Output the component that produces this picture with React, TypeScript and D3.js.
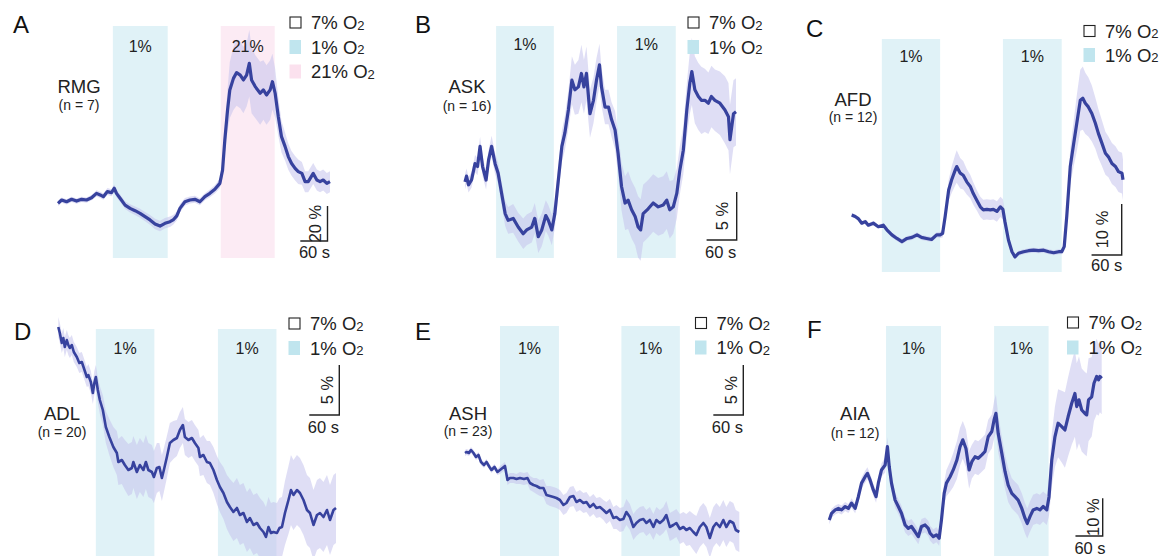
import React from "react";
import * as d3 from "d3";

type Pt = [number, number, number]; // [time s, mean %, sem %]

const FONT = "'Liberation Sans', Arial, Helvetica, sans-serif";
const LINE = "#37429e";
const BAND = "#c4c3ec";
const BLUE = "#e0f2f7";
const BLUE_SW = "#c0e5ee";
const PINK = "#fcebf4";
const PINK_SW = "#fbe1ee";
const TXT = "#222";

// ---------- data ----------
const rmgTrace: Pt[] = [[0,-1.9,1.5],[8,0,1.5],[19,-1,1.5],[30,0.4,1.5],[41,-0.6,1.5],[52,0.4,1.5],[63,0,1.5],[74,1.3,1.5],[85,3.8,1.8],[93,2.9,1.8],[100,1.9,1.8],[109,4.8,2],[118,4.2,2],[124,6.7,2.2],[129,3.8,2.2],[137,1,2.2],[148,-2.9,2.2],[159,-4.8,2.4],[170,-6.1,2.4],[181,-7.6,2.6],[192,-9.5,2.6],[203,-11.4,2.8],[214,-13.7,3],[225,-14.9,3],[236,-13.3,3],[247,-12.4,3],[254,-11.4,2.8],[262,-9.1,2.6],[269,-4.8,2.4],[280,-1,2.2],[291,0,2],[302,0.4,2],[313,-1,2],[324,1.9,2],[335,3.8,2.2],[346,6.1,2.4],[357,9.5,2.8],[363,17.1,4],[368,34.3,8],[374,51.4,12],[379,62.9,16],[387,69.5,18],[394,72.8,19],[402,71.4,19],[409,68.6,19],[416,71.4,18],[422,78.1,19],[427,68.6,19],[435,64.8,18],[446,61,18],[453,62.9,17],[460,60,17],[468,62.9,17],[473,67.6,16],[479,61,14],[486,47.6,11],[493,36.2,9],[501,30.5,8],[508,24.8,7.5],[515,21,7],[523,18.1,7],[530,16.2,7],[538,15.2,6.5],[545,10.5,6],[552,10.5,6],[563,15.2,6],[571,11.4,6],[578,10.5,6],[585,11.4,6],[593,9.5,6],[600,10.5,6]];
const askTrace: Pt[] = [[0,-0.2,0.8],[3,0.4,0.8],[7,-0.5,0.8],[13,0,0.8],[20,1.7,0.9],[25,1.4,0.9],[30,3.5,1],[35,1.4,1],[42,0,1],[47,2.1,1],[53,3.5,1.1],[60,1.7,1.1],[66,0.7,1.1],[73,-1.4,1.2],[80,-3.5,1.3],[86,-4.2,1.4],[96,-4,1.5],[106,-4.9,1.5],[116,-5.6,1.6],[123,-5.2,1.6],[133,-4.9,1.6],[139,-4,1.6],[146,-5.9,1.7],[153,-5.2,1.7],[161,-3.7,1.6],[166,-4.2,1.6],[173,-5.2,1.6],[179,-3.5,1.5],[186,0,1.5],[193,3.5,1.6],[199,4.9,1.8],[206,7.3,2],[213,10.4,2.5],[219,9.4,2.6],[226,9.7,2.8],[232,11.1,3],[237,9.7,2.8],[242,11.1,2.8],[249,6.9,2.5],[256,8.3,2.4],[262,10.4,2.3],[268,12,2.2],[272,9.7,2],[279,7.6,1.8],[286,7.6,1.8],[292,6.3,1.8],[299,5.2,2],[305,2.8,2.2],[312,-0.7,2.5],[319,-2.4,2.8],[325,-2.1,3],[332,-3.1,3],[339,-3.8,3],[345,-4.9,3.2],[350,-5.2,3.2],[355,-3.5,3],[365,-3,3],[375,-2.4,3],[385,-2.8,3],[395,-2.6,3],[402,-2.1,3],[408,-3.1,3],[415,-2.8,2.8],[422,-1.4,2.6],[428,1,2.5],[435,3.1,2.5],[442,7.3,2.8],[448,10.1,3.2],[452,11.3,3.5],[458,9.4,3.5],[465,8.7,3.5],[471,8.3,3.5],[478,8.3,3.3],[485,8,3.2],[491,8.7,3.2],[498,8.3,3.2],[508,8,3.3],[518,7.3,3.5],[525,6.6,3.5],[528,4.2,3.6],[535,6.9,3.5],[540,7.1,3.5]];
const afdTrace: Pt[] = [[0,0,0.4],[7,-0.3,0.4],[13,-0.7,0.4],[20,-1.6,0.4],[27,-1.3,0.4],[33,-2,0.4],[43,-1.6,0.4],[53,-2.3,0.4],[63,-2,0.4],[70,-2.9,0.5],[80,-3.9,0.5],[90,-4.6,0.5],[100,-5.2,0.5],[110,-4.6,0.5],[120,-4.4,0.5],[130,-3.9,0.5],[139,-4.4,0.5],[149,-4.6,0.5],[159,-4.8,0.5],[169,-3.9,0.5],[176,-3.9,0.6],[181,-3.6,0.8],[186,-0.3,1.2],[193,4.9,2],[199,6.9,2.6],[206,8.8,3],[209,9.5,3.2],[216,8.2,3],[222,7.8,2.8],[229,6.5,2.5],[236,5.6,2.3],[242,4.2,2.2],[249,2.9,2],[256,1.6,2],[262,1,2],[269,1.1,2],[276,1,2],[282,1.1,2],[289,0.7,2],[296,1.6,2],[301,1.1,2],[305,-1.3,1.5],[312,-4.9,1],[319,-7.2,0.6],[325,-8.2,0.5],[332,-7.5,0.5],[342,-7.2,0.5],[352,-7,0.5],[362,-6.9,0.5],[372,-7,0.5],[382,-6.9,0.5],[392,-7.2,0.5],[402,-7.4,0.5],[412,-7.2,0.5],[418,-7.2,0.5],[423,-6.2,0.8],[428,-0.3,2],[435,9.5,3.5],[442,14.1,4.5],[448,18,5.5],[455,22.5,6],[460,22.9,6.2],[465,21.9,6],[471,21.2,5.8],[478,19.9,5.5],[485,18,5],[491,16,4.8],[498,14.1,4.5],[505,12.1,4.2],[511,11.4,4],[518,10.1,4],[525,9.5,4],[531,8.5,4],[538,8.2,4],[540,6.9,4]];
const adlTrace: Pt[] = [[0,15.3,1],[3,14.7,1],[7,13.7,1],[10,14.2,1],[13,13.3,1],[17,14,1],[20,13.5,1],[23,13.2,1],[27,13.5,1],[31,12.8,1],[37,12.3,1],[42,11.7,1],[47,11.8,1],[51,11.2,1],[57,10.3,1],[60,10.5,1.1],[65,9.8,1.1],[69,8.7,1.1],[72,9.7,1.2],[75,10.3,1.2],[79,9,1.3],[83,8,1.4],[89,7,1.5],[95,5.3,1.6],[102,4.3,1.8],[110,3.3,2],[117,2.7,2.2],[120,1.8,2.3],[127,2,2.4],[133,1.5,2.5],[140,1,2.6],[147,1.2,2.6],[150,1.8,2.6],[157,0.8,2.7],[163,1.5,2.7],[170,1,2.7],[175,1.8,2.7],[180,1,2.7],[187,0.8,2.7],[191,0.3,2.6],[197,1.2,2.5],[202,1.3,2.4],[207,0.2,2.3],[211,1,2.2],[217,2.3,2.1],[223,3.7,2],[230,4,1.9],[237,4.2,1.8],[243,5,1.8],[249,5.5,1.8],[253,4.3,1.8],[260,4,1.8],[267,4.2,1.8],[273,3.7,1.8],[280,3.2,1.8],[283,2.3,1.9],[290,2.5,2],[297,1.8,2.1],[303,1.7,2.2],[310,1,2.3],[317,0,2.4],[323,-0.7,2.5],[330,-1.3,2.6],[337,-2.2,2.7],[343,-2.7,2.8],[350,-3.2,2.9],[357,-2.8,3],[363,-3.5,3],[370,-3.3,3],[377,-4.2,3],[383,-3.8,3],[390,-4.5,3],[397,-4.3,3],[403,-4.8,3],[410,-5.2,3],[415,-5.7,3],[420,-4.7,3],[425,-5.3,3],[430,-5.2,3],[437,-5.3,3],[442,-4.8,3],[447,-4.7,3],[453,-3.3,3.2],[460,-2,3.4],[465,-1,3.5],[470,-1.5,3.5],[477,-1,3.5],[483,-1.3,3.5],[490,-2,3.5],[497,-3,3.5],[503,-3.3,3.5],[510,-4.5,3.5],[517,-3.5,3.5],[523,-3.3,3.5],[530,-3.7,3.5],[537,-3,3.5],[543,-4,3.5],[550,-3,3.5],[555,-2.8,3.5]];
const ashTrace: Pt[] = [[0,2.7,0.3],[3,2.8,0.3],[8,2.7,0.3],[12,3,0.3],[17,2.7,0.3],[22,2.3,0.3],[27,2.5,0.3],[32,1.8,0.3],[38,1.5,0.3],[43,1.8,0.3],[49,1.3,0.3],[53,1,0.3],[59,1.3,0.3],[65,0.8,0.3],[70,1,0.4],[75,1.2,0.4],[80,1.4,0.4],[85,0,0.5],[90,0.2,0.5],[97,0.2,0.5],[103,0.1,0.5],[110,0.2,0.6],[118,0.1,0.6],[125,0.2,0.6],[130,-0.3,0.7],[137,-0.5,0.7],[143,-0.6,0.8],[150,-0.8,0.8],[157,-0.8,0.9],[163,-1.5,0.9],[170,-1.6,1],[177,-1.7,1],[183,-1.8,1],[190,-2,1],[197,-2.5,1],[203,-2.3,1],[210,-1.7,1],[217,-1.6,1],[223,-2.2,1],[230,-2,1],[237,-2.3,1],[243,-2.2,1],[250,-2.7,1],[257,-2.4,1],[263,-2.8,1],[270,-2.7,1],[277,-3,1],[283,-3.3,1.1],[290,-3,1.1],[297,-3.8,1.1],[303,-3.7,1.2],[310,-4,1.2],[317,-3.9,1.2],[323,-3.2,1.3],[330,-3.7,1.3],[337,-4.7,1.3],[343,-4.3,1.3],[350,-4,1.3],[357,-3.9,1.3],[363,-4.3,1.3],[370,-4,1.3],[377,-4.7,1.3],[383,-4,1.3],[390,-4.3,1.3],[397,-4,1.3],[403,-3.5,1.4],[410,-4.7,1.4],[417,-4.5,1.4],[423,-4.3,1.4],[430,-4.9,1.5],[437,-4.7,1.5],[443,-5,1.6],[450,-4.8,1.7],[457,-5.2,1.8],[463,-5.5,1.9],[470,-4.7,2],[477,-4.3,2],[483,-4.7,2],[490,-5.8,2],[497,-4.7,2],[503,-4.3,2],[510,-4.7,2],[517,-4,2],[523,-4.7,2],[530,-4.1,2],[537,-4.3,2],[542,-5,2],[549,-5.2,2]];
const aiaTrace: Pt[] = [[0,-1.8,1.2],[5,0,1.2],[13,0.9,1.2],[20,1.3,1.2],[27,0.9,1.2],[35,1.8,1.2],[42,1.3,1.2],[49,2.7,1.3],[57,1.3,1.3],[64,4.4,1.4],[71,8,1.5],[79,9.7,1.6],[84,10.6,1.6],[90,8.8,1.6],[97,6.2,1.6],[103,4.4,1.6],[108,8,1.7],[115,11.5,1.8],[123,12.8,2],[128,17.7,2.5],[132,12.4,2.5],[137,8,2.2],[145,3.5,2],[152,1.8,2],[159,0,2],[167,-3.1,2],[174,-4,2],[181,-3.5,2],[189,-4.9,2],[196,-6.2,2],[203,-3.5,2],[211,-3.1,2],[218,-4,2],[222,-5.3,2],[229,-6.2,2],[236,-5.7,2],[242,-6.6,2],[247,-1.8,2.5],[253,5.3,3],[258,8,3.5],[266,9.7,4],[273,11.5,4.5],[281,14.1,5],[288,17.7,5],[294,19.5,5],[301,17.2,5],[308,11.5,5],[314,13.7,4.5],[321,15,4.5],[328,14.6,4.5],[336,15.5,4.5],[343,16.4,4.5],[350,20.3,4.5],[358,21.7,4.5],[363,24.8,5],[367,26.5,5],[372,21.2,5],[380,15.9,4.5],[387,11.1,4.5],[394,7.5,4.5],[402,5.3,4],[409,4.4,4],[416,3.5,4],[424,1.3,4],[431,-1.3,4],[436,-2.7,4],[442,-0.9,4],[449,0.9,4],[457,1.3,4],[464,0.9,4],[471,1.8,4],[479,0.9,4],[484,4.4,5],[490,14.1,7],[497,20.3,8],[504,23.9,9],[512,23,9.5],[519,22.1,10],[526,25.6,10.5],[534,29.2,11],[541,31.8,11.5],[545,28.3,11.5],[550,30.1,11.5],[556,27.4,11],[563,26.5,11],[567,26.1,11],[571,30.1,11],[578,30.9,10.5],[583,34.5,10],[589,36.3,10],[593,35.4,9.5],[596,36.3,9.5],[600,35.8,9.5]];

// stimulus periods [start s, end s, O2 level]
const rmgStimuli: [number, number, string][] = [[121, 242, "1%"], [359, 478, "21%"]];
const askStimuli: [number, number, string][] = [[62, 177, "1%"], [303, 420, "1%"]];
const afdStimuli: [number, number, string][] = [[60, 176, "1%"], [301, 418, "1%"]];
const adlStimuli: [number, number, string][] = [[75, 192, "1%"], [319, 436, "1%"]];
const ashStimuli: [number, number, string][] = [[70, 188, "1%"], [313, 430, "1%"]];
const aiaStimuli: [number, number, string][] = [[125, 246, "1%"], [363, 483, "1%"]];

const legendFull = ["7%", "1%", "21%"];
const legendShort = ["7%", "1%"];

type Cfg = {
  letter: string; letterX: number; letterY: number;
  trace: Pt[]; stim: [number, number, string][]; tMax: number; xRange: [number, number];
  zeroY: number; pxPerUnit: number; shadeTop: number; shadeBottom: number; stimLabelY: number;
  name: string; n: string; nameX: number; nameY: number; nY: number;
  legendX: number; legendY: number[]; legend: string[];
  barX: number; barY: number; barVal: number; barUnit: string; barLabelDx: number; secDx: number; secDy: number;
  lw: number;
};

const panels: Cfg[] = [
  { letter: "A", letterX: 13, letterY: 33, trace: rmgTrace, stim: rmgStimuli, tMax: 600, xRange: [58, 330],
    zeroY: 200, pxPerUnit: 1.75, shadeTop: 26, shadeBottom: 258, stimLabelY: 52,
    name: "RMG", n: "(n = 7)", nameX: 79, nameY: 93, nY: 109.5,
    legendX: 289.5, legendY: [22.5, 47, 71.5], legend: legendFull,
    barX: 327.5, barY: 241, barVal: 20, barUnit: "20 %", barLabelDx: -12.5, secDx: -13, secDy: 16.5, lw: 3.2 },
  { letter: "B", letterX: 415, letterY: 33, trace: askTrace, stim: askStimuli, tMax: 540, xRange: [465, 736],
    zeroY: 180, pxPerUnit: 9.6, shadeTop: 26, shadeBottom: 258, stimLabelY: 50,
    name: "ASK", n: "(n = 16)", nameX: 467, nameY: 93, nY: 111,
    legendX: 687.5, legendY: [22.5, 47], legend: legendShort,
    barX: 736.7, barY: 240, barVal: 5, barUnit: "5 %", barLabelDx: -15, secDx: -16, secDy: 18, lw: 3.2 },
  { letter: "C", letterX: 806, letterY: 37, trace: afdTrace, stim: afdStimuli, tMax: 540, xRange: [851.7, 1123],
    zeroY: 215, pxPerUnit: 5.1, shadeTop: 39, shadeBottom: 272, stimLabelY: 62,
    name: "AFD", n: "(n = 12)", nameX: 853, nameY: 106, nY: 121.5,
    legendX: 1083.5, legendY: [31, 55], legend: legendShort,
    barX: 1121.7, barY: 255, barVal: 10, barUnit: "10 %", barLabelDx: -20, secDx: -15, secDy: 16, lw: 3.2 },
  { letter: "D", letterX: 14, letterY: 340, trace: adlTrace, stim: adlStimuli, tMax: 555, xRange: [58.3, 336],
    zeroY: 480, pxPerUnit: 10, shadeTop: 329, shadeBottom: 556, stimLabelY: 354,
    name: "ADL", n: "(n = 20)", nameX: 62, nameY: 419.5, nY: 437,
    legendX: 288.5, legendY: [323.5, 348], legend: legendShort,
    barX: 339.3, barY: 415, barVal: 5, barUnit: "5 %", barLabelDx: -12, secDx: -16, secDy: 17.7, lw: 2.6 },
  { letter: "E", letterX: 415, letterY: 340, trace: ashTrace, stim: ashStimuli, tMax: 549, xRange: [465, 739.3],
    zeroY: 480, pxPerUnit: 10, shadeTop: 326, shadeBottom: 556, stimLabelY: 354,
    name: "ASH", n: "(n = 23)", nameX: 468, nameY: 419.5, nY: 436,
    legendX: 695, legendY: [323, 347.5], legend: legendShort,
    barX: 743.3, barY: 415, barVal: 5, barUnit: "5 %", barLabelDx: -12.5, secDx: -16, secDy: 17.7, lw: 2.6 },
  { letter: "F", letterX: 807, letterY: 338, trace: aiaTrace, stim: aiaStimuli, tMax: 600, xRange: [829.3, 1101.7],
    zeroY: 513.3, pxPerUnit: 3.77, shadeTop: 326, shadeBottom: 556, stimLabelY: 354,
    name: "AIA", n: "(n = 12)", nameX: 855, nameY: 419.5, nY: 437.5,
    legendX: 1067, legendY: [322.5, 347.5], legend: legendShort,
    barX: 1102.7, barY: 536, barVal: 10, barUnit: "10 %", barLabelDx: -10, secDx: -12.7, secDy: 18, lw: 3.2 },
];

function O2Label({ x, y, pct }: { x: number; y: number; pct: string }) {
  return (
    <text x={x} y={y} fontFamily={FONT} fontSize={18.5} fill={TXT}>
      {pct} O<tspan fontSize={13} dy={0.5}>2</tspan>
    </text>
  );
}

function Panel({ c }: { c: Cfg }) {
  const x = d3.scaleLinear().domain([0, c.tMax]).range(c.xRange);
  const y = d3.scaleLinear().domain([0, 1]).range([c.zeroY, c.zeroY - c.pxPerUnit]);
  const line = d3.line<Pt>().x((d) => x(d[0])).y((d) => y(d[1]));
  const area = d3.area<Pt>().x((d) => x(d[0])).y0((d) => y(d[1] - d[2])).y1((d) => y(d[1] + d[2]));
  const barH = y(0) - y(c.barVal);
  const barW = x(60) - x(0);
  const barMid = c.barY - barH / 2;
  const lx = c.barX + c.barLabelDx;
  return (
    <g>
      {c.stim.map((s, i) => (
        <rect key={i} x={x(s[0])} y={c.shadeTop} width={x(s[1]) - x(s[0])} height={c.shadeBottom - c.shadeTop}
          fill={s[2] === "21%" ? PINK : BLUE} />
      ))}
      <path d={area(c.trace) || ""} fill={BAND} fillOpacity={0.55} />
      <path d={line(c.trace) || ""} fill="none" stroke={LINE} strokeWidth={c.lw} strokeLinejoin="round" />
      {c.stim.map((s, i) => (
        <text key={i} x={(x(s[0]) + x(s[1])) / 2} y={c.stimLabelY} textAnchor="middle" fontFamily={FONT}
          fontSize={16} fill={TXT}>{s[2]}</text>
      ))}
      <text x={c.letterX} y={c.letterY} fontFamily={FONT} fontSize={24} fill="#111">{c.letter}</text>
      <text x={c.nameX} y={c.nameY} textAnchor="middle" fontFamily={FONT} fontSize={18.5} fill={TXT}>{c.name}</text>
      <text x={c.nameX} y={c.nY} textAnchor="middle" fontFamily={FONT} fontSize={14} fill={TXT}>{c.n}</text>
      {c.legend.map((p, i) => {
        const cy = c.legendY[i];
        return (
          <g key={p}>
            {p === "7%" ? (
              <rect x={c.legendX + 0.5} y={cy - 5.5} width={11} height={11} fill="none" stroke="#222" strokeWidth={1.1} />
            ) : (
              <rect x={c.legendX} y={cy - 7} width={11.5} height={14} fill={p === "21%" ? PINK_SW : BLUE_SW} />
            )}
            <O2Label x={c.legendX + 21.5} y={cy + 6.5} pct={p} />
          </g>
        );
      })}
      <path d={`M${c.barX},${c.barY - barH}V${c.barY}H${c.barX - barW}`} fill="none" stroke="#222" strokeWidth={1.4} />
      <text x={lx} y={barMid} transform={`rotate(-90 ${lx} ${barMid})`} textAnchor="middle" dominantBaseline="central"
        fontFamily={FONT} fontSize={16.5} fill={TXT}>{c.barUnit}</text>
      <text x={c.barX + c.secDx} y={c.barY + c.secDy} textAnchor="middle" fontFamily={FONT} fontSize={16.5} fill={TXT}>60 s</text>
    </g>
  );
}

export default function App() {
  return (
    <svg width={1173} height={556} style={{ position: "absolute", left: 0, top: 0, background: "#fff" }}>
      <rect width={1173} height={556} fill="#fff" />
      {panels.map((c) => (
        <Panel key={c.letter} c={c} />
      ))}
    </svg>
  );
}
